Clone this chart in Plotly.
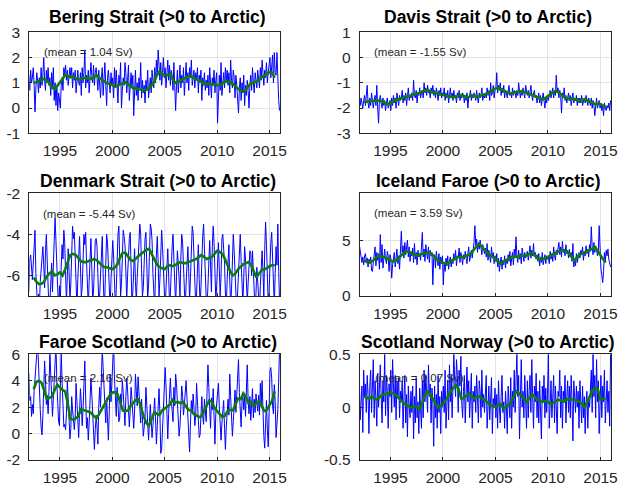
import numpy as np
import plotly.graph_objects as go

# ---------------- data (monthly, Jan 1992 .. Dec 2015) ----------------
titles = ["Bering Strait (>0 to Arctic)", "Davis Strait (>0 to Arctic)",
          "Denmark Strait (>0 to Arctic)", "Iceland Faroe (>0 to Arctic)",
          "Faroe Scotland (>0 to Arctic)", "Scotland Norway (>0 to Arctic)"]
means = ["(mean = 1.04 Sv)", "(mean = -1.55 Sv)", "(mean = -5.44 Sv)",
         "(mean = 3.59 Sv)", "(mean = 2.16 Sv)", "(mean = 0.07 Sv)"]

bering = [
 1.3, 0.7, 1.5, 1.0, 1.2, 1.6, 0.9, -0.15, 0.8, 1.4, 1.1, 0.6,
 1.2, 0.8, 1.6, 0.9, 1.3, 2.0, 1.1, 0.7, 1.5, 1.0, 1.6, 0.9,
 1.2, 0.5, 1.4, 0.8, 1.6, 0.3, 1.0, 0.1, 0.9, -0.1, 0.6, 0.2,
 0.0, 0.9, 1.2, 0.7, 1.6, 1.3, 1.7, 1.1, 1.5, 0.9, 1.4, 1.6,
 1.2, 1.6, 0.8, 1.4, 1.1, 1.5, 0.6, 1.3, 1.5, 1.0, 0.9, 1.4,
 0.5, 1.6, 1.0, 1.4, 2.3, 0.8, 1.3, 1.0, 1.5, 0.6, 1.2, 1.8,
 1.3, 1.0, 1.7, 0.9, 1.4, 1.6, 1.2, 0.7, 1.5, 1.1, 0.4, 1.2,
 1.6, 0.5, 1.2, 1.8, 0.9, 0.1, 1.2, 1.5, 1.0, 0.6, 1.4, 0.9,
 1.2, 0.4, 1.6, 0.8, 1.5, 1.0, 0.2, 1.3, 0.9, 1.8, 0.0, 0.7,
 1.2, 0.9, 1.8, 1.4, 0.6, 1.1, 1.7, 0.3, 1.0, 1.4, 0.8, 1.3,
 -0.3, 0.9, 1.5, 0.5, 1.0, 0.3, 1.2, 0.8, 1.8, 0.4, 1.1, 0.6,
 0.9, 0.2, 1.1, 0.7, 1.5, 0.4, 0.9, 1.2, 0.6, 1.5, 1.1, 0.8,
 1.6, 1.0, 1.9, 1.3, 2.3, 1.5, 1.1, 1.8, 0.9, 1.4, 2.0, 1.2,
 1.6, 0.8, 1.4, 1.9, 1.1, 1.7, 0.9, 1.5, 1.3, 0.7, 1.8, 1.1,
 -0.1, 0.9, 1.5, 0.6, 1.2, 1.7, 0.8, 1.3, 1.0, 1.6, 0.5, 1.2,
 1.8, 1.0, 1.4, 0.7, 1.6, 1.2, 1.9, 0.9, 1.3, 1.5, 0.8, 1.4,
 1.1, 1.6, 0.6, 1.3, 1.0, 1.5, 0.3, 1.2, 0.9, 1.4, 0.7, 1.1,
 0.8, 1.3, 0.5, 1.6, 1.0, 0.4, 1.2, 0.9, 1.5, 0.6, 1.1, 1.4,
 -0.6, 0.9, 1.3, 0.7, 1.8, 0.5, 1.1, 1.4, 0.8, 1.6, 1.0, 1.5,
 0.9, 1.4, 0.6, 1.9, 1.1, 0.8, 1.5, 1.2, 0.4, 1.3, 0.9, 0.5,
 -0.2, 0.8, 1.2, 0.3, 1.0, 0.6, 1.3, 0.1, 0.9, 0.5, 1.1, 0.7,
 0.0, 0.9, 1.3, 0.7, 1.6, 1.0, 0.6, 1.4, 1.1, 0.8, 1.5, 1.2,
 0.8, 1.6, 1.1, 1.9, 1.3, 0.9, 1.5, 1.2, 1.8, 1.0, 1.4, 1.7,
 2.0, 1.2, 1.6, 2.1, 1.0, 2.2, 1.4, 1.3, 2.2, 1.0, 0.3, -0.1]

davis = [
 -1.7, -1.9, -1.6, -1.8, -2.0, -1.7, -1.5, -1.9, -1.6, -1.1, -1.8, -2.0,
 -1.6, -1.9, -1.4, -1.8, -2.0, -1.7, -1.5, -1.9, -1.1, -2.0, -2.6, -1.7,
 -1.5, -1.8, -2.0, -1.6, -1.9, -1.7, -2.1, -1.8, -1.6, -2.0, -1.9, -1.7,
 -2.1, -1.6, -1.9, -1.5, -1.8, -1.6, -2.0, -1.4, -1.7, -1.9, -1.5, -1.7,
 -1.6, -1.3, -1.8, -1.5, -1.7, -1.4, -1.9, -1.6, -1.2, -1.7, -1.5, -1.6,
 -1.4, -1.7, -0.9, -1.5, -1.6, -1.3, -1.8, -1.4, -1.5, -1.2, -1.6, -1.4,
 -1.3, -1.6, -1.0, -1.4, -1.2, -1.5, -1.1, -1.4, -1.3, -1.6, -1.2, -1.4,
 -1.1, -1.5, -1.3, -1.6, -1.2, -1.4, -1.7, -1.3, -1.5, -1.2, -1.6, -1.4,
 -1.5, -1.2, -1.7, -1.4, -1.6, -1.3, -1.8, -1.5, -1.2, -1.6, -1.4, -1.7,
 -1.3, -1.6, -1.5, -1.8, -1.4, -1.6, -1.3, -1.7, -1.5, -1.6, -1.4, -1.5,
 -1.8, -1.5, -1.7, -1.4, -2.0, -1.6, -1.5, -1.3, -1.7, -1.5, -1.6, -1.4,
 -1.5, -1.7, -1.3, -1.6, -1.8, -1.4, -1.6, -1.5, -1.2, -1.7, -1.5, -1.6,
 -1.4, -1.6, -1.2, -1.5, -1.3, -1.7, -1.0, -1.5, -1.4, -1.1, -1.6, -1.3,
 -1.2, -0.6, -1.4, -1.1, -1.3, -1.0, -1.5, -1.2, -1.4, -1.1, -1.6, -1.3,
 -1.4, -1.6, -1.3, -1.1, -1.5, -1.4, -1.6, -1.2, -1.5, -1.3, -1.4, -1.6,
 -1.3, -1.5, -1.0, -1.4, -1.6, -1.3, -1.5, -1.2, -1.4, -1.6, -1.1, -1.4,
 -1.5, -1.3, -1.6, -1.4, -1.1, -1.5, -1.7, -1.4, -1.3, -1.6, -1.5, -1.8,
 -1.6, -1.4, -1.8, -1.5, -1.9, -1.6, -1.4, -1.7, -2.0, -1.6, -1.8, -1.5,
 -1.7, -1.5, -1.3, -1.6, -1.4, -1.2, -1.6, -1.3, -1.5, -0.7, -1.4, -1.2,
 -1.6, -1.3, -1.5, -2.2, -1.4, -1.6, -1.2, -1.7, -1.5, -1.8, -1.6, -1.4,
 -1.7, -1.5, -1.9, -1.6, -1.4, -1.8, -1.6, -1.7, -1.5, -1.9, -1.6, -1.8,
 -1.6, -1.8, -1.5, -1.9, -1.7, -1.6, -1.8, -1.5, -1.7, -1.9, -1.6, -1.8,
 -1.9, -1.6, -2.0, -1.7, -1.9, -2.3, -1.8, -1.6, -2.0, -1.8, -1.7, -2.0,
 -1.8, -2.1, -1.9, -2.3, -1.8, -2.0, -2.1, -1.9, -2.0, -1.8, -2.1, -1.7]

denmark = [
 -6.8, -5.2, -5.0, -5.6, -6.2, -5.4, -4.6, -3.8, -5.9, -7.4, -7.6, -6.9,
 -7.5, -6.3, -5.8, -5.1, -4.6, -5.5, -6.6, -4.8, -4.0, -5.3, -6.9, -7.7,
 -7.4, -6.1, -5.4, -6.8, -5.0, -4.3, -3.2, -4.6, -5.9, -7.1, -7.8, -6.5,
 -7.3, -5.6, -4.5, -5.2, -3.8, -4.4, -6.1, -7.4, -6.0, -4.7, -5.8, -7.2,
 -6.4, -4.9, -3.6, -4.2, -3.9, -5.1, -6.7, -7.6, -6.2, -5.0, -4.1, -5.5,
 -7.0, -6.6, -4.8, -4.0, -4.5, -3.9, -5.3, -6.9, -7.5, -6.3, -5.1, -4.2,
 -5.6, -7.2, -6.8, -5.2, -4.3, -4.2, -4.6, -6.0, -7.3, -7.0, -5.7, -4.4,
 -4.1, -5.9, -7.4, -6.9, -5.3, -4.0, -4.4, -5.5, -6.8, -7.6, -6.2, -4.9,
 -4.3, -5.1, -6.5, -7.5, -6.7, -4.8, -4.0, -3.6, -5.2, -7.0, -6.4, -4.6,
 -3.8, -4.1, -4.5, -5.8, -7.2, -6.0, -4.9, -4.2, -3.9, -5.6, -7.4, -6.8,
 -5.5, -4.7, -6.3, -7.3, -6.1, -4.8, -4.4, -3.5, -4.0, -5.7, -7.0, -6.6,
 -5.0, -4.2, -3.9, -5.8, -7.1, -6.5, -4.6, -3.5, -3.7, -4.3, -5.9, -7.3,
 -7.6, -5.8, -4.5, -4.1, -5.4, -7.0, -6.2, -4.8, -3.8, -4.6, -6.5, -7.5,
 -7.8, -6.6, -5.2, -4.7, -6.0, -7.4, -6.9, -5.5, -4.6, -4.0, -5.3, -6.8,
 -7.5, -6.0, -4.8, -5.4, -6.5, -7.0, -5.1, -4.0, -4.4, -5.9, -7.3, -7.8,
 -6.4, -5.3, -4.6, -5.8, -7.2, -6.1, -4.9, -3.6, -3.9, -5.0, -6.8, -7.5,
 -6.9, -5.4, -4.5, -6.2, -7.4, -6.6, -5.0, -4.1, -3.5, -4.8, -6.3, -7.1,
 -7.6, -6.2, -4.9, -4.3, -5.5, -6.8, -4.6, -3.6, -4.4, -5.9, -7.2, -6.5,
 -5.3, -4.4, -5.7, -7.0, -6.0, -4.2, -4.0, -4.6, -5.4, -6.9, -7.5, -6.2,
 -5.0, -4.5, -6.3, -7.4, -6.7, -5.5, -4.0, -4.8, -6.2, -7.6, -7.9, -6.8,
 -5.6, -4.7, -4.0, -5.3, -6.9, -7.4, -6.1, -4.6, -5.2, -6.5, -7.3, -6.4,
 -5.1, -4.8, -4.9, -6.0, -4.8, -5.7, -7.2, -7.8, -6.9, -5.6, -6.3, -7.5,
 -7.7, -6.5, -5.2, -4.8, -5.8, -7.1, -4.7, -3.4, -4.5, -6.2, -7.4, -6.8,
 -5.4, -4.4, -3.9, -5.2, -6.8, -7.5, -5.9, -4.6, -5.5, -3.5, -5.8, -7.3]

iceland = [
 4.6, 3.9, 3.2, 3.0, 3.5, 2.8, 3.6, 3.8, 3.1, 3.4, 2.6, 3.3,
 2.9, 3.5, 2.3, 2.2, 3.0, 3.6, 4.4, 2.7, 3.9, 3.2, 3.8, 2.4,
 5.5, 3.0, 4.6, 2.5, 3.8, 4.2, 3.3, 2.9, 4.0, 3.6, 2.2, 3.7,
 3.4, 1.6, 2.8, 3.5, 3.9, 2.6, 3.3, 4.2, 2.9, 3.6, 2.4, 3.8,
 5.8, 3.9, 4.5, 3.4, 4.8, 3.7, 4.2, 5.0, 3.5, 4.4, 3.1, 4.0,
 3.6, 4.3, 3.0, 4.7, 3.3, 3.9, 2.8, 4.1, 3.5, 3.8, 3.2, 4.4,
 5.7, 3.5, 4.2, 3.1, 4.6, 3.8, 3.3, 4.4, 3.0, 4.1, 3.6, 3.9,
 1.0, 3.4, 3.7, 2.5, 4.0, 3.3, 2.7, 3.8, 2.4, 3.5, 2.9, 3.6,
 1.0, 3.0, 2.2, 3.4, 2.7, 3.6, 2.4, 3.1, 3.5, 2.6, 3.3, 2.9,
 3.8, 3.2, 4.1, 2.7, 3.6, 3.4, 4.3, 3.0, 3.9, 3.5, 2.8, 3.7,
 3.3, 4.0, 3.5, 2.9, 3.8, 4.4, 3.1, 3.7, 4.1, 3.4, 3.9, 4.8,
 6.3, 4.5, 5.1, 3.9, 4.8, 4.2, 5.0, 4.4, 3.7, 4.6, 4.1, 3.8,
 4.3, 3.5, 4.7, 3.2, 4.1, 3.6, 3.0, 4.4, 3.4, 3.9, 2.9, 3.6,
 3.1, 3.8, 2.6, 3.4, 2.2, 3.0, 3.5, 2.4, 3.2, 2.8, 3.6, 2.5,
 3.3, 2.9, 3.7, 3.1, 4.0, 2.7, 3.5, 3.9, 2.8, 4.2, 3.4, 5.3,
 3.6, 3.0, 4.1, 3.3, 3.8, 2.9, 4.3, 3.5, 3.1, 3.9, 3.4, 3.7,
 4.0, 3.2, 3.8, 4.5, 3.4, 4.1, 3.6, 4.7, 3.5, 3.9, 3.3, 3.7,
 3.1, 3.8, 2.7, 3.5, 3.0, 3.9, 2.8, 3.4, 3.7, 2.9, 3.6, 3.3,
 3.5, 2.9, 4.0, 3.3, 3.8, 3.1, 4.4, 3.6, 3.2, 4.1, 3.7, 4.3,
 4.8, 3.7, 4.4, 3.5, 4.9, 3.9, 4.2, 3.6, 4.6, 3.8, 4.1, 3.4,
 4.2, 3.5, 3.9, 3.1, 4.7, 2.6, 3.3, 2.7, 3.8, 3.0, 3.6, 3.9,
 3.4, 4.1, 3.7, 4.4, 3.2, 4.0, 3.6, 4.5, 3.8, 4.2, 3.5, 4.6,
 4.0, 6.2, 4.4, 3.7, 4.8, 3.9, 4.5, 4.2, 3.6, 4.0, 6.3, 3.3,
 2.4, 1.9, 1.2, 2.2, 3.9, 3.1, 4.1, 3.6, 4.2, 3.3, 2.8, 2.6]

faroe_scotland = [
 4.6, 2.5, 2.8, 1.3, 2.2, 1.5, 3.2, 4.0, 5.0, 6.5, 7.0, 5.2,
 2.8, 1.8, 0.5, -0.1, 1.4, 3.5, 5.5, 4.0, 2.2, 2.9, 1.5, 3.2,
 6.3, 4.5, 1.8, 1.3, 2.6, 4.9, 6.5, 6.8, 3.8, 2.2, 0.9, 0.6,
 3.5, 6.2, 4.0, 2.5, 0.5, 0.7, 0.3, 1.5, 4.0, 2.6, 1.0, -0.4,
 0.4, 2.8, 1.8, 0.9, 0.3, 1.2, 3.8, 2.4, 0.8, -0.3, 1.6, 3.4,
 2.3, 0.6, 1.9, 4.8, 5.5, 2.7, 0.4, 1.2, -0.5, 0.8, 2.5, 4.2,
 3.0, 1.1, -0.4, -1.2, 0.3, 1.4, 0.5, -0.8, 2.1, 3.5, 2.0, 4.6,
 6.4, 5.0, 3.2, 1.5, 0.8, 2.7, 0.2, -0.5, 1.6, 4.5, 2.4, 3.8,
 6.5, 6.8, 4.2, 2.8, 1.3, 3.5, 2.0, 0.9, 1.2, 3.0, 2.2, 4.0,
 3.1, 1.5, 0.6, 2.8, 4.2, 3.3, 1.0, 0.5, 1.8, 3.5, 2.6, 1.1,
 0.4, 1.7, 4.5, 3.2, 2.1, 4.3, 2.9, 1.4, 0.8, 2.6, 1.2, -0.2,
 0.5, 1.3, 3.5, 2.0, 0.3, -0.5, 0.9, 2.2, 1.0, -0.3, 0.6, 1.8,
 2.7, 1.1, -0.8, 0.6, 2.3, 3.4, 1.5, -1.5, -1.2, 0.7, 2.2, 3.1,
 5.0, 3.6, 2.0, -0.4, 1.5, 2.8, 4.2, 2.6, 1.3, 0.9, 3.5, 2.1,
 4.5, 3.8, 2.4, 1.0, -0.2, 0.6, 2.3, 3.6, 2.8, 1.4, 2.2, 3.0,
 4.0, 2.7, 1.2, 0.3, -1.4, 0.8, 2.5, 1.6, 3.0, 2.0, 0.6, 1.4,
 3.8, 2.4, 1.1, -0.3, -0.1, 1.5, 2.8, 1.3, 0.7, 2.6, 1.9, 0.9,
 3.2, 5.2, 3.5, 1.6, 0.4, 2.7, 1.8, 3.4, 0.3, -0.8, 1.5, 2.4,
 3.0, 3.8, 2.0, 0.6, -0.5, 0.8, 1.7, 2.5, 0.4, -1.2, 0.5, 1.9,
 2.6, 1.4, 4.5, 2.8, 1.0, -0.2, 0.9, 2.4, 3.3, 1.6, 2.7, 4.2,
 5.6, 3.1, 1.2, 0.5, 2.4, 3.0, 1.8, 2.9, 1.3, 3.9, 5.2, 2.5,
 1.5, 2.8, 1.0, 2.2, 3.4, 1.2, 2.6, 1.6, 3.0, 2.3, 1.7, 2.9,
 1.4, 3.8, 2.2, 4.0, 1.0, -0.2, -1.1, 0.8, 2.5, 0.3, -1.0, 1.6,
 4.8, 5.0, 4.2, 2.1, 1.5, 3.7, 2.4, -0.3, 0.5, 1.8, 4.0, 6.5]

scotland_norway = [
 0.28, -0.12, 0.05, 0.2, -0.24, 0.35, 0.1, 0.22, -0.05, 0.3, 0.12, -0.25,
 0.2, 0.35, -0.05, 0.15, 0.45, -0.1, 0.25, 0.08, -0.18, 0.32, 0.0, 0.18,
 0.4, 0.1, -0.15, 0.25, 0.05, 0.5, -0.08, 0.3, 0.15, -0.2, 0.22, 0.1,
 0.35, -0.05, 0.45, 0.2, 0.0, 0.3, -0.12, 0.25, 0.1, 0.28, -0.1, 0.15,
 0.05, 0.25, -0.2, 0.1, 0.3, -0.15, 0.12, -0.28, 0.2, 0.0, -0.1, 0.15,
 -0.05, 0.2, -0.3, 0.1, -0.15, 0.28, -0.1, 0.05, -0.25, 0.18, 0.0, -0.2,
 0.25, -0.1, 0.35, 0.05, 0.3, 0.15, -0.05, 0.4, 0.1, 0.22, -0.15, 0.18,
 0.05, -0.37, 0.2, -0.1, 0.12, -0.2, 0.3, -0.05, 0.1, -0.25, 0.15, 0.0,
 0.2, -0.05, 0.35, -0.2, 0.1, 0.25, -0.12, 0.4, 0.05, 0.3, -0.1, 0.2,
 0.5, 0.25, 0.1, 0.45, 0.3, -0.05, 0.35, 0.2, 0.48, 0.05, -0.1, 0.15,
 0.3, -0.15, 0.2, 0.38, 0.05, 0.25, -0.1, 0.1, 0.32, -0.2, 0.15, 0.05,
 0.2, -0.05, 0.3, 0.1, -0.15, 0.25, 0.15, -0.1, 0.35, 0.0, 0.12, -0.05,
 0.1, 0.3, -0.2, 0.05, 0.2, -0.12, 0.15, 0.28, -0.25, 0.08, 0.0, 0.18,
 -0.1, 0.12, -0.2, 0.25, 0.0, -0.15, 0.1, 0.3, -0.05, 0.05, -0.2, 0.15,
 0.0, -0.25, 0.2, 0.05, -0.1, 0.28, -0.2, 0.15, 0.0, 0.35, -0.05, 0.25,
 0.5, 0.1, 0.3, -0.3, 0.2, 0.45, 0.0, 0.15, -0.1, 0.3, 0.05, -0.2,
 0.25, -0.1, 0.15, 0.3, -0.05, 0.45, 0.1, -0.2, 0.2, 0.05, 0.32, -0.1,
 0.15, -0.15, 0.25, 0.0, -0.3, 0.2, 0.05, 0.3, -0.1, 0.18, -0.05, 0.12,
 0.5, -0.2, 0.1, 0.25, -0.1, 0.05, 0.3, -0.15, 0.2, 0.0, -0.25, 0.15,
 0.1, 0.35, -0.1, 0.2, -0.2, 0.15, 0.05, 0.3, -0.15, 0.1, 0.25, -0.05,
 0.2, -0.1, 0.3, 0.05, -0.32, 0.25, 0.1, -0.05, 0.2, 0.0, 0.15, -0.2,
 0.25, 0.0, -0.15, 0.2, -0.1, 0.1, -0.25, 0.05, 0.15, -0.2, 0.1, 0.0,
 0.2, 0.35, -0.05, 0.5, 0.1, 0.3, -0.1, 0.45, 0.05, 0.25, -0.25, 0.15,
 0.3, -0.1, 0.2, 0.05, 0.35, -0.15, 0.1, 0.25, -0.05, 0.15, -0.18, 0.5]

# 12-month running means, read quarterly from mid-1992 to mid-2015
bering_rm = [1.0, 1.02, 1.08, 1.12, 1.15, 1.08, 0.98, 0.8, 0.76, 0.88, 1.0, 1.15,
 1.32, 1.28, 1.22, 1.25, 1.18, 1.12, 1.15, 1.2, 1.17, 1.2, 1.15, 1.22, 1.3, 1.2,
 1.12, 1.05, 0.98, 0.95, 0.92, 0.85, 0.88, 0.95, 1.0, 1.02, 0.95, 0.88, 0.78, 0.8,
 0.72, 0.75, 0.7, 0.72, 0.78, 0.9, 1.05, 1.3, 1.45, 1.35, 1.28, 1.3, 1.35, 1.15,
 1.0, 1.02, 1.1, 1.15, 1.2, 1.25, 1.27, 1.2, 1.15, 1.12, 1.05, 0.95, 0.97, 0.95,
 0.93, 0.95, 0.9, 0.92, 1.0, 1.05, 1.05, 1.02, 0.95, 0.85, 0.75, 0.68, 0.65, 0.72,
 0.88, 0.98, 1.0, 1.05, 1.12, 1.22, 1.3, 1.35, 1.42, 1.4, 1.2]
davis_rm = [-1.75, -1.75, -1.72, -1.7, -1.7, -1.72, -1.7, -1.75, -1.8, -1.85,
 -1.82, -1.75, -1.7, -1.65, -1.62, -1.58, -1.57, -1.52, -1.5, -1.47, -1.45, -1.4,
 -1.35, -1.3, -1.28, -1.32, -1.38, -1.4, -1.42, -1.45, -1.48, -1.5, -1.52, -1.55,
 -1.58, -1.55, -1.5, -1.48, -1.52, -1.58, -1.55, -1.5, -1.52, -1.55, -1.52, -1.47,
 -1.45, -1.42, -1.35, -1.28, -1.22, -1.2, -1.25, -1.32, -1.38, -1.4, -1.42, -1.4,
 -1.38, -1.35, -1.33, -1.36, -1.4, -1.42, -1.45, -1.52, -1.58, -1.63, -1.66, -1.6,
 -1.52, -1.45, -1.37, -1.32, -1.38, -1.45, -1.55, -1.62, -1.65, -1.62, -1.65, -1.7,
 -1.72, -1.68, -1.65, -1.7, -1.75, -1.8, -1.85, -1.83, -1.85, -1.9, -1.97]
denmark_rm = [-6.1, -6.3, -6.42, -6.4, -6.3, -6.05, -5.9, -5.8, -6.0, -5.95, -5.85,
 -6.0, -5.7, -5.3, -5.0, -4.95, -5.0, -5.15, -5.3, -5.35, -5.35, -5.3, -5.25, -5.2,
 -5.25, -5.4, -5.5, -5.6, -5.6, -5.65, -5.7, -5.6, -5.45, -5.1, -4.9, -4.9, -5.05,
 -5.25, -5.3, -5.15, -5.05, -4.95, -4.85, -4.75, -4.7, -4.95, -5.2, -5.45, -5.6,
 -5.65, -5.7, -5.55, -5.5, -5.55, -5.5, -5.4, -5.35, -5.4, -5.4, -5.35, -5.3, -5.25,
 -5.2, -5.1, -5.0, -5.1, -5.2, -5.15, -5.1, -4.95, -4.8, -4.85, -4.95, -5.2, -5.5,
 -5.8, -6.0, -5.9, -5.7, -5.55, -5.45, -5.4, -5.35, -5.5, -5.8, -6.1, -5.9, -5.75,
 -5.7, -5.65, -5.55, -5.5, -5.5]
iceland_rm = [3.2, 3.05, 3.0, 3.1, 3.3, 3.55, 3.6, 3.55, 3.45, 3.3, 3.2, 3.1, 3.15,
 3.35, 3.6, 3.85, 4.0, 3.95, 3.85, 3.7, 3.6, 3.7, 3.8, 3.85, 3.9, 3.85, 3.7, 3.45,
 3.2, 3.1, 3.0, 2.9, 2.9, 3.1, 3.3, 3.45, 3.5, 3.5, 3.5, 3.6, 3.7, 3.9, 4.2, 4.5,
 4.62, 4.4, 4.1, 3.85, 3.7, 3.5, 3.3, 3.1, 2.9, 3.05, 3.2, 3.35, 3.5, 3.5, 3.5,
 3.55, 3.6, 3.6, 3.65, 3.8, 3.9, 3.65, 3.4, 3.3, 3.3, 3.4, 3.5, 3.6, 3.7, 3.85,
 4.0, 4.05, 4.1, 4.0, 3.8, 3.5, 3.2, 3.45, 3.7, 3.8, 3.9, 4.0, 4.1, 4.2, 4.35,
 4.0, 3.6, 3.3, 3.0]
faroe_scotland_rm = [3.35, 3.9, 4.0, 3.85, 3.3, 2.6, 2.7, 2.8, 3.3, 3.7, 3.5, 3.3,
 3.2, 2.3, 1.1, 1.05, 1.15, 1.3, 1.85, 1.8, 1.7, 1.65, 1.55, 1.3, 1.15, 1.5, 1.9,
 2.3, 2.6, 2.9, 3.1, 3.15, 3.0, 2.3, 1.75, 1.7, 1.75, 2.1, 2.35, 2.55, 2.6, 1.9,
 1.3, 0.8, 0.6, 1.1, 1.6, 1.5, 1.4, 1.75, 1.9, 2.0, 2.2, 2.55, 2.35, 2.4, 2.3,
 2.4, 2.1, 1.8, 1.75, 1.5, 1.4, 1.25, 1.3, 1.7, 2.2, 2.5, 2.4, 1.95, 1.7, 1.5,
 1.25, 1.35, 1.7, 1.8, 1.75, 2.2, 2.65, 2.6, 3.05, 2.8, 2.3, 2.4, 2.1, 2.3, 2.45,
 2.1, 1.7, 1.8, 2.2, 2.5, 3.2]
scotland_norway_rm = [0.1, 0.09, 0.08, 0.1, 0.08, 0.07, 0.1, 0.12, 0.12, 0.13,
 0.14, 0.13, 0.12, 0.09, 0.06, 0.04, 0.02, 0.01, 0.0, 0.01, 0.0, -0.02, 0.03, 0.1,
 0.15, 0.13, 0.08, 0.04, 0.0, 0.01, 0.03, 0.06, 0.1, 0.15, 0.18, 0.21, 0.17, 0.08,
 0.09, 0.11, 0.13, 0.1, 0.08, 0.1, 0.1, 0.08, 0.07, 0.04, 0.02, 0.01, 0.0, 0.02,
 0.03, -0.01, 0.0, 0.02, 0.05, 0.1, 0.15, 0.13, 0.1, 0.07, 0.05, 0.09, 0.12, 0.1,
 0.07, 0.06, 0.05, 0.06, 0.05, 0.03, 0.04, 0.06, 0.07, 0.06, 0.05, 0.07, 0.08,
 0.07, 0.07, 0.06, 0.05, 0.03, 0.0, 0.05, 0.1, 0.16, 0.18, 0.17, 0.07, 0.08, 0.08]

series = [bering, davis, denmark, iceland, faroe_scotland, scotland_norway]
running = [bering_rm, davis_rm, denmark_rm, iceland_rm, faroe_scotland_rm, scotland_norway_rm]

year_ticks = [1995, 2000, 2005, 2010, 2015]
y_ranges = [[-1, 3], [-3, 1], [-7, -2], [0, 9.2], [-2, 6], [-0.5, 0.5]]
y_ticks = [[-1, 0, 1, 2, 3], [-3, -2, -1, 0, 1], [-6, -4, -2], [0, 5],
           [-2, 0, 2, 4, 6], [-0.5, 0, 0.5]]
y_ticktext = [["-1", "0", "1", "2", "3"], ["-3", "-2", "-1", "0", "1"],
              ["-6", "-4", "-2"], ["0", "5"], ["-2", "0", "2", "4", "6"],
              ["-0.5", "0", "0.5"]]

# ---------------- layout geometry ----------------
W, H = 624, 485
col_px = [(29.3, 280.0), (359.7, 611.0)]
row_px = [(32.3, 133.3), (193.3, 296.0), (354.3, 460.0)]
title_cy = [17.0, 180.7, 341.7]
mean_pos = [(0.052, 0.808), (0.049, 0.808), (0.048, 0.798),
            (0.049, 0.806), (0.051, 0.773), (0.053, 0.773)]

FONT = "Liberation Sans, Arial, sans-serif"
fig = go.Figure()
annotations = []
for k in range(6):
    r, c = divmod(k, 2)
    ax = "" if k == 0 else str(k + 1)
    y = np.array(series[k], dtype=float)
    t = 1992 + (np.arange(len(y)) + 0.5) / 12.0
    rm = np.array(running[k], dtype=float)
    trm = np.linspace(1992.5, 2015.5, len(rm))
    fig.add_trace(go.Scatter(x=t, y=y, mode="lines", line=dict(color="#0000ff", width=1),
                             xaxis="x" + ax, yaxis="y" + ax, showlegend=False, hoverinfo="skip"))
    fig.add_trace(go.Scatter(x=trm, y=rm, mode="lines", line=dict(color="#0a7d0a", width=2.6),
                             xaxis="x" + ax, yaxis="y" + ax, showlegend=False, hoverinfo="skip"))
    x0, x1 = col_px[c]
    yt, yb = row_px[r]
    common = dict(showline=True, linecolor="#262626", linewidth=1, mirror=True,
                  ticks="inside", ticklen=3, tickcolor="#262626", automargin=False,
                  showgrid=True, gridcolor="#e3e3e3", gridwidth=1, zeroline=False,
                  tickfont=dict(family=FONT, size=15.5, color="#262626"))
    fig.layout["xaxis" + ax] = dict(domain=[x0 / W, x1 / W], range=[1992.08, 2016.0],
                                    anchor="y" + ax, tickvals=year_ticks,
                                    ticktext=[str(v) for v in year_ticks],
                                    ticklabelstandoff=3, **common)
    fig.layout["yaxis" + ax] = dict(domain=[1 - yb / H, 1 - yt / H], range=y_ranges[k],
                                    anchor="x" + ax, tickvals=y_ticks[k],
                                    ticktext=y_ticktext[k], ticklabelstandoff=5, **common)
    annotations.append(dict(text="<b>" + titles[k] + "</b>", xref="x" + ax + " domain", x=0.5,
                            yref="paper", y=1 - title_cy[r] / H, xanchor="center",
                            yanchor="middle", showarrow=False, xshift=3,
                            font=dict(family=FONT, size=17.5, color="#000000")))
    mx, my = mean_pos[k]
    annotations.append(dict(text=means[k], xref="x" + ax + " domain", x=mx,
                            yref="y" + ax + " domain", y=my, xanchor="left",
                            yanchor="middle", showarrow=False,
                            font=dict(family=FONT, size=11.5, color="#262626")))

fig.update_layout(width=W, height=H, margin=dict(l=0, r=0, t=0, b=0),
                  paper_bgcolor="white", plot_bgcolor="white",
                  annotations=annotations, font=dict(family=FONT))
fig.write_html("out.html", config={"displayModeBar": False},
               post_script="document.body.style.margin='0';document.body.style.overflow='hidden';")
